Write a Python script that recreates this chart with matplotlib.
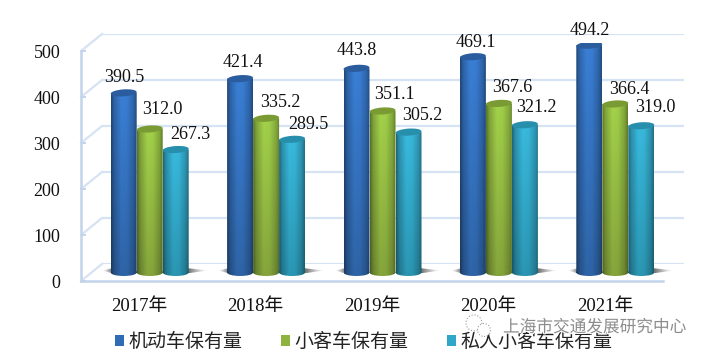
import numpy as np
import matplotlib
matplotlib.use("Agg")
import matplotlib.pyplot as plt
import matplotlib.patheffects as pe
from matplotlib.colors import to_rgb
from matplotlib.patches import Ellipse, Patch
from matplotlib.path import Path
from matplotlib.transforms import Affine2D

plt.rcParams['font.family'] = ['Liberation Serif', 'Noto Sans CJK SC']

years = ['2017年', '2018年', '2019年', '2020年', '2021年']
series_names = ['机动车保有量', '小客车保有量', '私人小客车保有量']
motor = [390.5, 421.4, 443.8, 469.1, 494.2]
car = [312.0, 335.2, 351.1, 367.6, 366.4]
private = [267.3, 289.5, 305.2, 321.2, 319.0]
yticks = [0, 100, 200, 300, 400, 500]

W, H = 707, 359
fig = plt.figure(figsize=(W / 100, H / 100), dpi=100)


def rect(left, top, right, bottom):
    return [left / W, 1 - bottom / H, (right - left) / W, (bottom - top) / H]


L, R, T, B = 81, 663, 51, 281
DX, DY = 21, 17
unit_x = (R - L) / 5
unit_y = (B - T) / 500
WALL = '#c3d4ea'
GRID = '#d6e3f3'

# back wall
back = fig.add_axes(rect(L + DX, T - DY, R + DX, B - DY))
back.set_xlim(-0.5, 4.5)
back.set_ylim(0, 500)
back.patch.set_alpha(0)
back.set_xticks([])
back.set_yticks(yticks)
back.tick_params(left=False, labelleft=False)
back.grid(axis='y', color=GRID, lw=1.6)
for s in back.spines.values():
    s.set_visible(False)
back.set_axisbelow(True)

# front frame with the tick labels
front = fig.add_axes(rect(L, T, R, B))
front.set_xlim(-0.5, 4.5)
front.set_ylim(0, 500)
front.patch.set_alpha(0)
for s in ('top', 'right'):
    front.spines[s].set_visible(False)
for s in ('left', 'bottom'):
    front.spines[s].set_color(WALL)
    front.spines[s].set_linewidth(1.8)
front.set_yticks(yticks)
front.set_xticks(range(5), years)
front.tick_params(axis='y', direction='in', length=3.6, width=1.4, color=WALL,
                  pad=15, labelsize=13, labelcolor='#111111')
front.tick_params(axis='x', length=0, pad=12, labelsize=13.5, labelcolor='#111111')
for v in yticks:
    front.plot([-0.5, -0.5 + DX / unit_x], [v, v + DY / unit_y], color=GRID,
               lw=1.6, clip_on=False, zorder=1)

# bars, half-way into the depth
ax = fig.add_axes(rect(L + DX / 2, T - DY / 2, R + DX / 2, B - DY / 2))
ax.set_xlim(-0.5, 4.5)
ax.set_ylim(0, 500)
ax.axis('off')

bar_w = 26 / unit_x
semi = 3.5 / unit_y
offsets = [-bar_w, 0, bar_w]
tops = ['#3a7fd6', '#a3d24a', '#39bade']
bottoms = ['#2f65a8', '#86a63c', '#2b97b4']
caps = ['#2a5c9e', '#7a9a34', '#278fab']
label_nudge = [
    [(1, 15), (3, 16), (0, 18), (3, 14), (1, 15)],
    [(13, 19), (14, 16), (12, 16), (13, 16), (14, 14)],
    [(15, 15.5), (16, 15), (13.5, 17), (11, 17), (14, 18)],
]

# floor shadows
for i in range(5):
    for x0, x1, flip in ((i - 1.5 * bar_w - 0.075, i - 1.5 * bar_w + 0.02, False),
                         (i + 1.5 * bar_w - 0.02, i + 1.5 * bar_w + 0.165, True)):
        a = np.linspace(0, 1, 48) ** 1.3
        if flip:
            a = a[::-1]
        img = np.zeros((1, 48, 4))
        img[..., :3] = 0.33
        img[..., 3] = a * 0.95
        im = ax.imshow(img, extent=[x0, x1, -1 / unit_y, 4 / unit_y], aspect='auto',
                       interpolation='bilinear', zorder=1)
        tip = x1 if flip else x0
        root = x0 if flip else x1
        tri = Path([(tip, 2 / unit_y), (root, 4.5 / unit_y), (root, -1 / unit_y), (tip, 2 / unit_y)],
                   closed=True)
        im.set_clip_box(fig.bbox)
        im.set_clip_path(tri, ax.transData)

prof_x = [0, 0.12, 0.40, 0.62, 0.87, 1]
prof_v = [0.55, 0.78, 1.0, 0.98, 0.80, 0.60]
u = np.linspace(0, 1, 64)
shade = np.interp(u, prof_x, prof_v)

for k, vals in enumerate((motor, car, private)):
    xs = np.arange(5) + offsets[k]
    bars = ax.bar(xs, vals, width=bar_w, color=tops[k], zorder=2)
    ctop, cbot = np.array(to_rgb(tops[k])), np.array(to_rgb(bottoms[k]))
    for j, (x, v, b) in enumerate(zip(xs, vals, bars)):
        t = np.linspace(0, 1, 40)[:, None, None]
        col = cbot * (1 - t) + ctop * t
        img = np.clip(col * shade[None, :, None], 0, 1)
        x0, x1 = x - bar_w / 2, x + bar_w / 2
        im = ax.imshow(img, extent=[x0, x1, -semi, v], origin='lower', aspect='auto',
                       interpolation='bilinear', zorder=3)
        ell = Path.unit_circle().transformed(Affine2D().scale(bar_w / 2, semi).translate(x, 0))
        body = Path([(x0, 0), (x1, 0), (x1, v), (x0, v), (x0, 0)], closed=True)
        im.set_clip_box(fig.bbox)
        im.set_clip_path(Path.make_compound_path(body, ell), ax.transData)
        b.set_visible(False)
        px, py = ax.transData.transform((x, v))
        ax.add_patch(Ellipse((0, 0), 26, 7, facecolor=caps[k], edgecolor='none', zorder=4,
                             transform=Affine2D().rotate_deg(4).translate(px, py)))
        dx, dy = label_nudge[k][j]
        ax.annotate(f'{v:.1f}', (x, v), xytext=(dx * 0.72, dy * 0.72),
                    textcoords='offset points', ha='center', va='center', fontsize=13,
                    color='#111111', zorder=6, annotation_clip=False)
ax.set_xlim(-0.5, 4.5)
ax.set_ylim(0, 500)

handles = [Patch(facecolor=c, edgecolor='none') for c in ('#2f6cb4', '#8fb33f', '#2ea7c9')]
fig.legend(handles, series_names, ncol=3, frameon=False, fontsize=13.7,
           loc='center left', bbox_to_anchor=(115 / W, 1 - 342 / H),
           borderaxespad=0, borderpad=0, handlelength=0.48, handleheight=0.48,
           handletextpad=0.25, columnspacing=2.0, labelcolor='#222222')

# watermark
fig.text(503 / W, 1 - 328 / H, '上海市交通发展研究中心', fontsize=12, color='#8c8c8c',
         ha='left', va='center', zorder=10,
         path_effects=[pe.withStroke(linewidth=1.6, foreground='white')])
for cx, cy, r in ((474, 323, 8), (484, 330, 6.5)):
    fig.add_artist(Ellipse((cx / W, 1 - cy / H), 2 * r / W, 2 * r / H,
                           transform=fig.transFigure, facecolor='white',
                           edgecolor='#9a9a9a', lw=0.8, ls=':', zorder=9))

fig.savefig('out.png', dpi=100)
